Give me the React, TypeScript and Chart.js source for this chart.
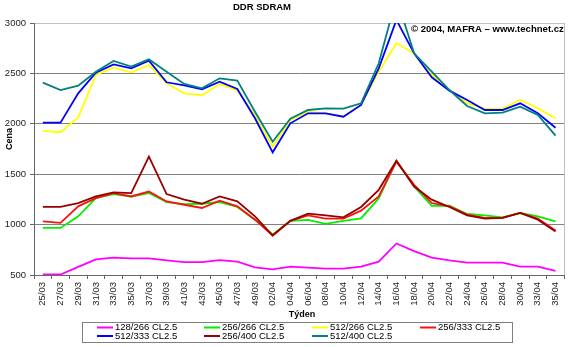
import React, { useEffect, useRef } from "react";
import { Chart, registerables } from "chart.js";

Chart.register(...registerables);

const categories = [
  "25/03", "27/03", "29/03", "31/03", "33/03", "35/03", "37/03", "39/03", "41/03", "43/03",
  "45/03", "47/03", "49/03", "02/04", "04/04", "06/04", "08/04", "10/04", "12/04", "14/04",
  "16/04", "18/04", "20/04", "22/04", "24/04", "26/04", "28/04", "30/04", "33/04", "35/04",
];

const s128_266 = [505, 505, 580, 655, 672, 664, 664, 645, 628, 628, 648, 632, 575, 555, 583, 573, 564, 564, 583, 632, 813, 737, 672, 645, 622, 622, 622, 583, 583, 540];
const s256_266 = [967, 967, 1082, 1263, 1303, 1279, 1313, 1224, 1204, 1207, 1224, 1175, 1049, 902, 1037, 1047, 1007, 1037, 1062, 1260, 1634, 1378, 1187, 1187, 1105, 1092, 1072, 1115, 1082, 1033];
const s512_266 = [1929, 1916, 2064, 2484, 2560, 2510, 2583, 2402, 2302, 2283, 2395, 2329, 2087, 1773, 2038, 2121, 2104, 2070, 2187, 2517, 2799, 2699, 2484, 2335, 2203, 2154, 2150, 2236, 2154, 2055];
const s256_333 = [1033, 1017, 1181, 1263, 1313, 1279, 1328, 1230, 1197, 1165, 1237, 1181, 1049, 892, 1037, 1092, 1059, 1059, 1138, 1279, 1625, 1395, 1214, 1181, 1099, 1066, 1066, 1115, 1059, 941];
const s512_333 = [2011, 2011, 2302, 2507, 2590, 2550, 2626, 2412, 2382, 2342, 2418, 2345, 2055, 1717, 2005, 2104, 2104, 2070, 2187, 2550, 3030, 2699, 2461, 2329, 2236, 2137, 2137, 2203, 2104, 1961];
const s256_400 = [1175, 1175, 1214, 1279, 1319, 1313, 1674, 1303, 1247, 1207, 1279, 1230, 1082, 892, 1037, 1108, 1092, 1072, 1175, 1345, 1634, 1378, 1247, 1175, 1092, 1059, 1066, 1115, 1049, 931];
const s512_400 = [2408, 2335, 2378, 2517, 2623, 2567, 2640, 2517, 2395, 2352, 2451, 2428, 2120, 1822, 2050, 2137, 2154, 2150, 2203, 2600, 3250, 2699, 2517, 2335, 2177, 2104, 2110, 2170, 2087, 1882];

const seriesNames = ["128/266 CL2.5", "256/266 CL2.5", "512/266 CL2.5", "256/333 CL2.5", "512/333 CL2.5", "256/400 CL2.5", "512/400 CL2.5"];
const seriesData = [s128_266, s256_266, s512_266, s256_333, s512_333, s256_400, s512_400];
const seriesColors = ["#FF00FF", "#00F000", "#FFFF00", "#FF1010", "#0000FF", "#990000", "#008080"];

const yTicks = [500, 1000, 1500, 2000, 2500, 3000];

const titleText = "DDR SDRAM";
const copyrightText = "© 2004, MAFRA – www.technet.cz";
const yTitle = "Cena";
const xTitle = "Týden";

const FONT = "'Liberation Sans', Arial, sans-serif";

const decorPlugin = {
  id: "decor",
  beforeDatasetsDraw(chart: any) {
    const { ctx, chartArea } = chart;
    ctx.save();
    ctx.strokeStyle = "#C0C0C0";
    ctx.lineWidth = 1;
    ctx.beginPath();
    ctx.moveTo(Math.round(chartArea.right) + 0.5, chartArea.top);
    ctx.lineTo(Math.round(chartArea.right) + 0.5, chartArea.bottom);
    ctx.stroke();
    ctx.restore();
  },
  afterDraw(chart: any) {
    const { ctx } = chart;
    ctx.save();
    ctx.fillStyle = "#000";
    ctx.textBaseline = "middle";
    ctx.font = `bold 9.5px ${FONT}`;
    ctx.textAlign = "center";
    ctx.fillText(titleText, 262, 7);
    ctx.font = `bold 10px ${FONT}`;
    const w = ctx.measureText(copyrightText).width;
    const size = (10 * 153) / w;
    ctx.font = `bold ${size}px ${FONT}`;
    ctx.textAlign = "left";
    ctx.fillText(copyrightText, 411, 29);
    ctx.font = `bold 9px ${FONT}`;
    ctx.textAlign = "center";
    ctx.fillText(xTitle, 302, 315);
    ctx.save();
    ctx.translate(10, 139);
    ctx.rotate(-Math.PI / 2);
    ctx.fillText(yTitle, 0, 0);
    ctx.restore();
    ctx.strokeStyle = "#808080";
    ctx.lineWidth = 1;
    ctx.strokeRect(82.5, 322.5, 430, 20);
    const colX = [97, 204, 312, 420];
    const rowY = [327.5, 336];
    ctx.font = `9.5px ${FONT}`;
    ctx.textAlign = "left";
    seriesNames.forEach((name, i) => {
      const col = i % 4;
      const row = Math.floor(i / 4);
      const x = colX[col];
      const y = rowY[row];
      ctx.strokeStyle = seriesColors[i];
      ctx.lineWidth = 2;
      ctx.beginPath();
      ctx.moveTo(x, y);
      ctx.lineTo(x + 16, y);
      ctx.stroke();
      ctx.fillStyle = "#000";
      ctx.fillText(name, x + 18, y);
    });
    ctx.restore();
  },
};

export default function App() {
  const ref = useRef<HTMLCanvasElement>(null);
  useEffect(() => {
    if (!ref.current) return;
    const n = seriesData.length;
    const chart = new Chart(ref.current, {
      type: "line",
      data: {
        labels: categories,
        datasets: seriesData.map((d, i) => ({
          label: seriesNames[i],
          data: d,
          borderColor: seriesColors[i],
          backgroundColor: seriesColors[i],
          borderWidth: 1.8,
          pointRadius: 0,
          tension: 0,
          fill: false,
          order: n - i,
        })),
      },
      options: {
        animation: false,
        responsive: false,
        devicePixelRatio: 1,
        layout: { padding: { top: 23, right: 4, bottom: 0, left: 0 } },
        plugins: {
          legend: { display: false },
          title: { display: false },
          tooltip: { enabled: false },
        },
        scales: {
          x: {
            type: "category",
            offset: true,
            grid: {
              offset: true,
              drawOnChartArea: false,
              drawTicks: true,
              tickLength: 4,
              color: "#666",
            },
            border: { color: "#666", width: 1 },
            ticks: {
              autoSkip: false,
              maxRotation: 90,
              minRotation: 90,
              padding: 3,
              color: "#222",
              font: { family: FONT, size: 9.5 },
            },
            afterFit(scale: any) {
              scale.height = 72;
            },
          },
          y: {
            min: 500,
            max: 3000,
            afterBuildTicks(scale: any) {
              scale.ticks = yTicks.map((v) => ({ value: v }));
            },
            grid: {
              color: (c: any) => (c.tick && c.tick.value === 3000 ? "#C0C0C0" : "#808080"),
              tickColor: "#666",
              tickLength: 4,
              lineWidth: 1,
            },
            border: { color: "#666", width: 1 },
            ticks: {
              padding: 4,
              color: "#222",
              font: { family: FONT, size: 9.5 },
              callback: (v: any) => String(v),
            },
            afterFit(scale: any) {
              scale.width = 34;
            },
          },
        },
      },
      plugins: [decorPlugin],
    } as any);
    return () => chart.destroy();
  }, []);
  return (
    <div style={{ position: "fixed", left: 0, top: 0, width: 570, height: 347, background: "#fff" }}>
      <canvas ref={ref} width={570} height={347} style={{ width: 570, height: 347, display: "block" }} />
    </div>
  );
}
